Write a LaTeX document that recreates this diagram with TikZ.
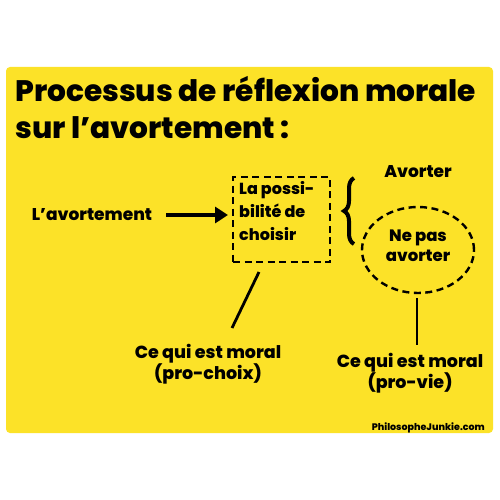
\documentclass[tikz,border=0pt]{standalone}
\usepackage{fontspec}
\setmainfont{Poppins}[UprightFont=* ExtraBold, BoldFont=* ExtraBold]
\usetikzlibrary{arrows.meta,decorations.pathreplacing,shapes.geometric}
\definecolor{bgyellow}{HTML}{FCE228}
\tikzset{
  lbl/.style={font=\fontsize{17}{21}\selectfont, align=center, inner sep=0pt},
  dashline/.style={line width=2.4pt, dash pattern=on 7pt off 4.5pt},
  conn/.style={line width=2.8pt},
}
\begin{document}
\begin{tikzpicture}[x=1pt,y=-1pt]
\useasboundingbox (0,0) rectangle (500,500);
\fill[white] (0,0) rectangle (500,500);
\fill[bgyellow, rounded corners=4pt] (6,67) rectangle (493,433);
\node[anchor=base west, inner sep=0pt, font=\fontsize{29.6}{35}\selectfont] (t1) at (15,102) {Processus de réflexion morale};
\node[anchor=base west, inner sep=0pt, font=\fontsize{29.6}{35}\selectfont] (t2) at (15,138) {sur l’avortement :};
\node[lbl] (avort) at (92,215) {L’avortement};
\node[draw, dashline, minimum width=97pt, minimum height=85pt, inner sep=0pt] (box) at (281.5,219.5) {};
\node[lbl, align=left, anchor=north west, font=\fontsize{16}{23}\selectfont] (boxt) at (239,181) {La possi-\\bilité de\\choisir};
\coordinate (as) at (166,215);
\coordinate (ae) at (228,215);
\draw[-{Triangle[length=13pt,width=16pt]}, line width=3.2pt] (as) -- (ae);
\node[lbl] (av) at (418,172) {Avorter};
\node[draw, dashline, ellipse, minimum width=112pt, minimum height=86pt, inner sep=0pt] (ell) at (418,250) {};
\node[lbl, font=\fontsize{16.5}{20}\selectfont] (np) at (418,246) {Ne pas\\avorter};
\draw[line width=4pt, decorate, decoration={brace, amplitude=10pt}] (354,244) -- (354,178) coordinate (br);
\node[lbl, font=\fontsize{17.5}{21}\selectfont] (pc) at (208,364) {Ce qui est moral\\(pro-choix)};
\node[lbl, font=\fontsize{17.5}{21}\selectfont] (pv) at (410,373) {Ce qui est moral\\(pro-vie)};
\coordinate (c1a) at (259,272); \coordinate (c1b) at (232,328);
\draw[conn] (c1a) -- (c1b);
\coordinate (c2a) at (417,298); \coordinate (c2b) at (417,345);
\draw[conn] (c2a) -- (c2b);
\node[anchor=base east, inner sep=0pt, font=\fontsize{9.5}{10}\selectfont] (pj) at (485,430) {PhilosopheJunkie.com};
\end{tikzpicture}
\end{document}
